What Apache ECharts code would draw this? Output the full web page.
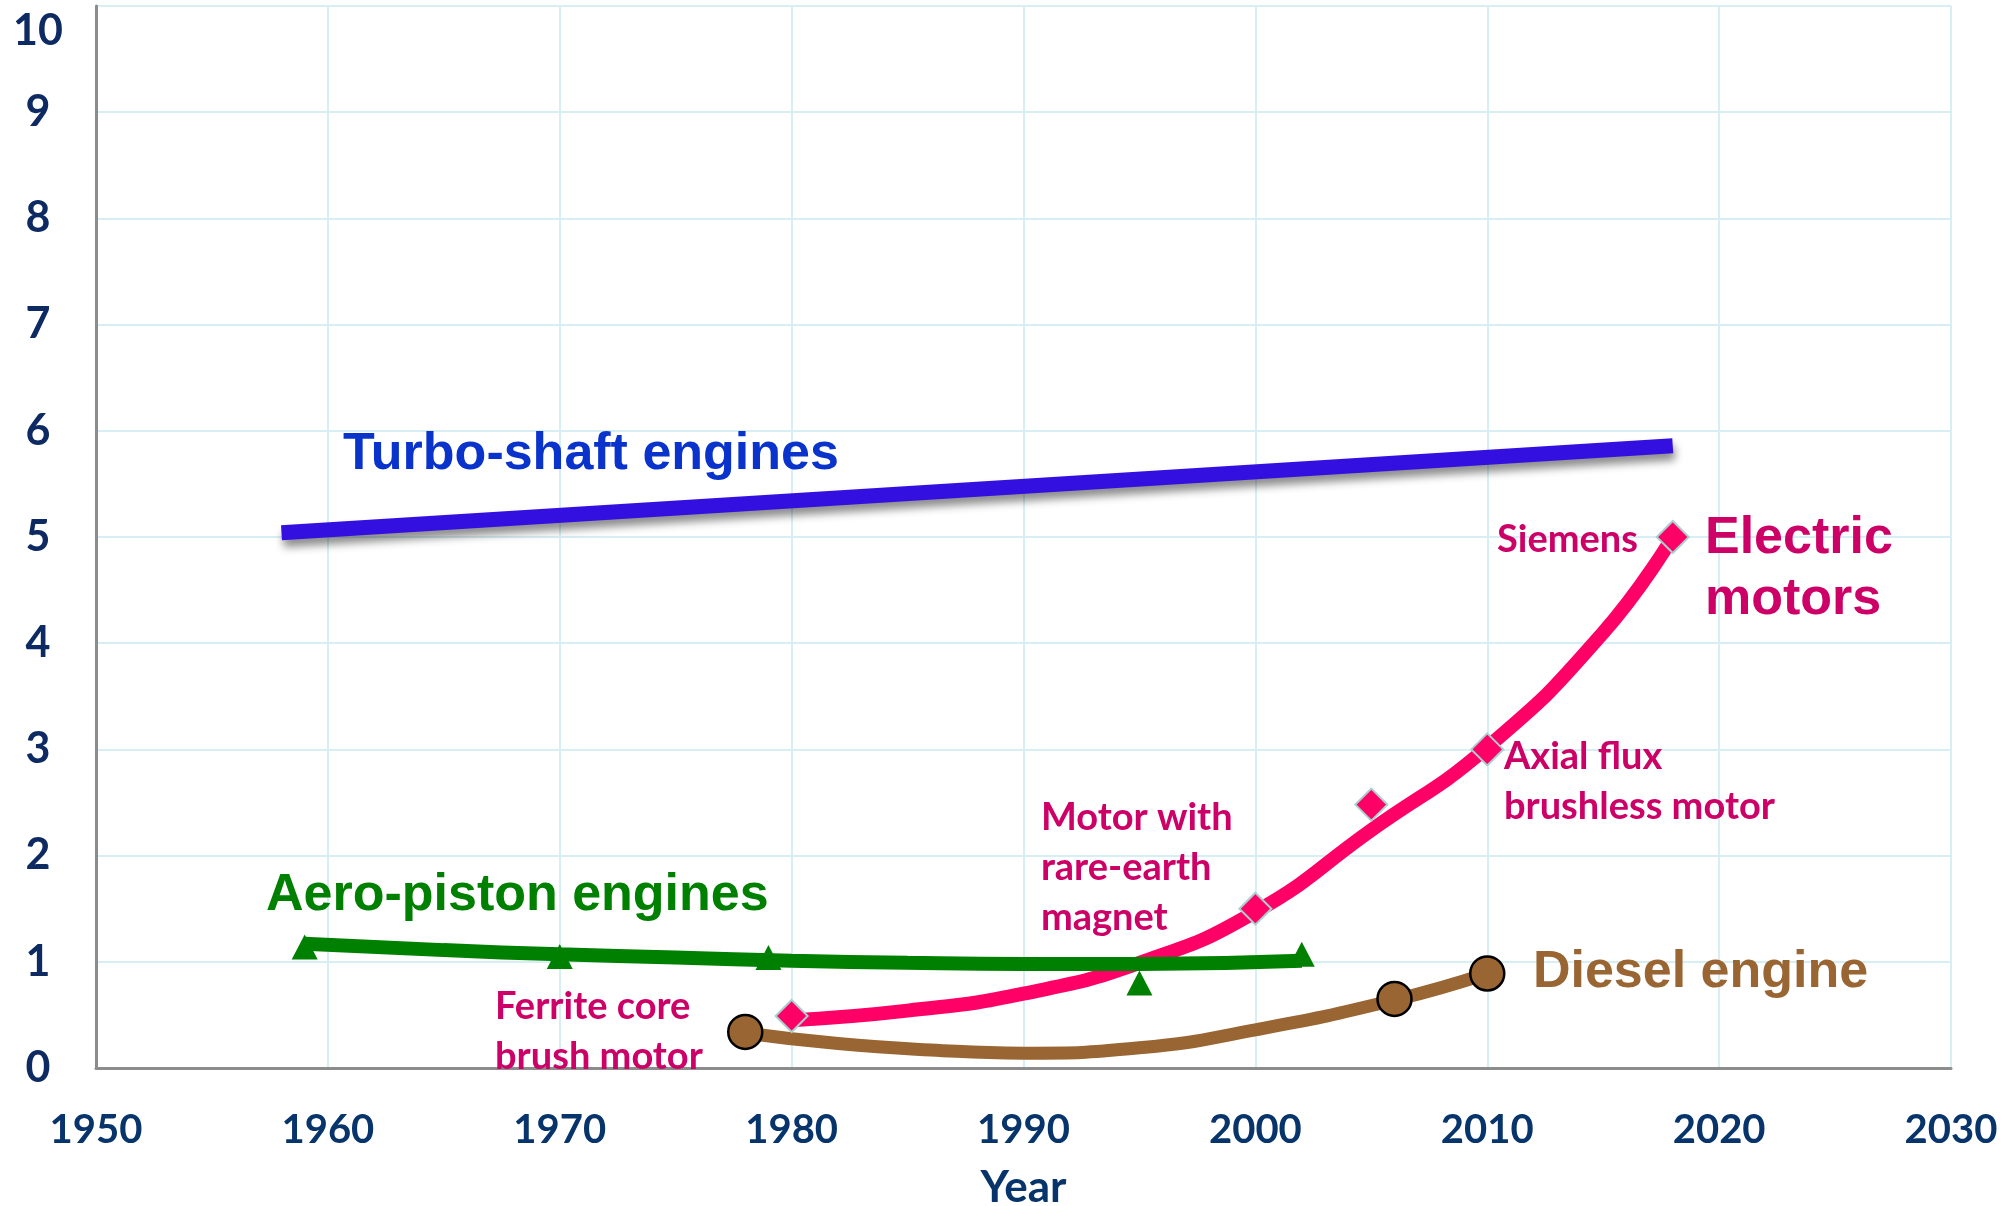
<!DOCTYPE html>
<html>
<head>
<meta charset="utf-8">
<script src="https://cdn.jsdelivr.net/npm/echarts@6/dist/echarts.min.js"></script>
<style>
html,body{margin:0;padding:0;background:#fff;}
#chart{width:2007px;height:1206px;}
</style>
</head>
<body>
<div id="chart"></div>
<script>
// ---- data ----
const xTicks = [1950, 1960, 1970, 1980, 1990, 2000, 2010, 2020, 2030];
const yTicks = [0, 1, 2, 3, 4, 5, 6, 7, 8, 9, 10];

const turboYears = [1958, 2018];
const turboVals = [5.04, 5.86];

const electricTrendYears = [1980, 1985, 1990, 1995, 2000, 2005, 2010, 2015, 2018];
const electricTrendVals = [0.45, 0.54, 0.70, 0.99, 1.47, 2.24, 3.02, 4.10, 5.00];
const electricYears = [1980, 2000, 2005, 2010, 2018];
const electricVals = [0.49, 1.50, 2.48, 3.00, 5.00];

const aeroTrendYears = [1959, 1965, 1970, 1975, 1980, 1985, 1990, 1995, 2002];
const aeroTrendVals = [1.17, 1.11, 1.07, 1.04, 1.01, 0.99, 0.98, 0.98, 1.01];
const aeroYears = [1959, 1970, 1979, 1995, 2002];
const aeroVals = [1.14, 1.05, 1.04, 0.80, 1.07];

const dieselTrendYears = [1978, 1982, 1986, 1990, 1995, 2000, 2006, 2010];
const dieselTrendVals = [0.33, 0.23, 0.17, 0.14, 0.19, 0.36, 0.64, 0.89];
const dieselYears = [1978, 2006, 2010];
const dieselVals = [0.34, 0.65, 0.89];

// annotations: [text, year, value, align, size, color]
const annotations = [
  ['Turbo-shaft engines', 1960.65, 5.78, 'left', 'big', '#0a33cc'],
  ['Aero-piston engines', 1957.33, 1.62, 'left', 'big', '#008000'],
  ['Electric\nmotors', 2019.39, 4.70, 'left', 'big', '#cc0066'],
  ['Diesel engine', 2011.97, 0.895, 'left', 'big', '#996633'],
  ['Siemens', 2016.5, 4.97, 'right', 'small', '#cc0066'],
  ['Axial flux\nbrushless motor', 2010.72, 2.70, 'left', 'small', '#cc0066'],
  ['Motor with\nrare-earth\nmagnet', 1990.75, 1.89, 'left', 'small', '#cc0066'],
  ['Ferrite core\nbrush motor', 1967.21, 0.345, 'left', 'small', '#cc0066']
];

const zip = (a, b) => a.map((v, i) => [v, b[i]]);

const chart = echarts.init(document.getElementById('chart'), null, {renderer: 'canvas'});
const option = {
  animation: false,
  backgroundColor: '#ffffff',
  grid: {left: 96, right: 56, top: 6, bottom: 138, containLabel: false, outerBoundsMode: 'none'},
  xAxis: {
    type: 'value', min: xTicks[0], max: xTicks[xTicks.length - 1], interval: 10,
    name: 'Year', nameLocation: 'middle', nameGap: 98,
    nameTextStyle: {fontFamily: 'Lato', fontWeight: 'bold', fontSize: 44, color: '#07346a'},
    axisLine: {show: true, lineStyle: {color: '#8c8c8c', width: 3}},
    axisTick: {show: false},
    axisLabel: {fontFamily: 'Lato', fontWeight: 'bold', fontSize: 40, color: '#07346a', margin: 42,
      formatter: v => String(v)},
    splitLine: {show: true, lineStyle: {color: '#d7eff4', width: 2}}
  },
  yAxis: {
    type: 'value', min: yTicks[0], max: yTicks[yTicks.length - 1], interval: 1,
    axisLine: {show: true, lineStyle: {color: '#8c8c8c', width: 3}},
    axisTick: {show: false},
    axisLabel: {
      fontFamily: 'Lato', fontWeight: 'bold', fontSize: 43, color: '#0e2a62',
      align: 'center', margin: 58, lineHeight: 50,
      formatter: v => (v === yTicks[yTicks.length - 1] ? '\n' + v : String(v))
    },
    splitLine: {show: true, lineStyle: {color: '#d7eff4', width: 2}}
  },
  series: [
    {
      type: 'line', name: 'Electric trend', data: zip(electricTrendYears, electricTrendVals),
      smooth: true, symbol: 'none', z: 3,
      lineStyle: {color: '#ff0066', width: 14, cap: 'round'}
    },
    {
      type: 'line', name: 'Aero trend', data: zip(aeroTrendYears, aeroTrendVals),
      smooth: true, symbol: 'none', z: 4,
      lineStyle: {color: '#008000', width: 14, cap: 'butt'}
    },
    {
      type: 'line', name: 'Diesel trend', data: zip(dieselTrendYears, dieselTrendVals),
      smooth: true, symbol: 'none', z: 3,
      lineStyle: {color: '#996633', width: 13, cap: 'round'}
    },
    {
      type: 'line', name: 'Turbo-shaft', data: zip(turboYears, turboVals),
      symbol: 'none', z: 3,
      lineStyle: {color: '#3410e0', width: 15, cap: 'butt',
        shadowColor: 'rgba(0,0,0,0.45)', shadowBlur: 8, shadowOffsetY: 7, shadowOffsetX: 2}
    },
    {
      type: 'scatter', name: 'Electric', data: zip(electricYears, electricVals),
      symbol: 'diamond', symbolSize: 32, z: 5,
      itemStyle: {color: '#ff0066', borderColor: '#a9cfcf', borderWidth: 2, opacity: 1}
    },
    {
      type: 'scatter', name: 'Aero', data: zip(aeroYears, aeroVals),
      symbol: 'triangle', symbolSize: [26, 25], z: 5,
      itemStyle: {color: '#008000', opacity: 1}
    },
    {
      type: 'scatter', name: 'Diesel', data: zip(dieselYears, dieselVals),
      symbol: 'circle', symbolSize: 34, z: 5,
      itemStyle: {color: '#996633', borderColor: '#000000', borderWidth: 2.5, opacity: 1}
    }
  ]
};
chart.setOption(option);

const graphics = annotations.map(a => {
  const p = chart.convertToPixel({gridIndex: 0}, [a[1], a[2]]);
  const big = a[4] === 'big';
  return {
    type: 'text', x: p[0], y: p[1], z: 10,
    style: {
      text: a[0], fill: a[5],
      fontFamily: big ? 'Liberation Sans' : 'Lato',
      fontWeight: 'bold', fontSize: big ? 52 : 38,
      lineHeight: big ? 61 : 50,
      align: a[3], verticalAlign: 'middle'
    }
  };
});
chart.setOption({graphic: graphics});
</script>
</body>
</html>
